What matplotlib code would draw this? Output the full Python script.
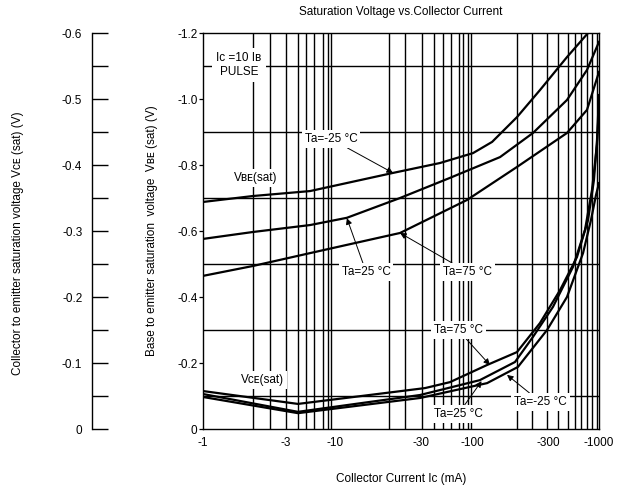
import matplotlib
matplotlib.use("Agg")
import matplotlib.pyplot as plt
from matplotlib.ticker import FixedLocator, NullFormatter

plt.rcParams['font.family'] = ['Liberation Sans', 'DejaVu Sans']

# collector current (mA, magnitude) and voltages (V)
ic_vbe_m25 = [1, 2.39, 6.47, 27.5, 62.4, 111, 155, 239, 357, 572, 826]
vbe_m25 = [-0.688, -0.706, -0.721, -0.776, -0.806, -0.836, -0.870, -0.945, -1.027, -1.127, -1.2]

ic_vbe_25 = [1, 2.39, 6.47, 12.3, 31.1, 74.3, 178, 316, 572, 811, 1000]
vbe_25 = [-0.576, -0.597, -0.618, -0.640, -0.700, -0.761, -0.824, -0.897, -0.997, -1.088, -1.173]

ic_vbe_75 = [1, 2.39, 6.47, 31.1, 100, 239, 572, 811, 1000]
vbe_75 = [-0.464, -0.494, -0.533, -0.594, -0.694, -0.794, -0.897, -0.967, -1.082]

ic_vce_75 = [1, 5.24, 48.1, 74.3, 142, 239, 357, 507, 681, 826, 916, 966, 1000]
vce_75 = [-0.115, -0.076, -0.124, -0.142, -0.194, -0.233, -0.321, -0.421, -0.521, -0.633, -0.755, -0.876, -1.012]

ic_vce_25 = [1, 5.24, 44.1, 125, 231, 316, 448, 635, 783, 885, 966, 1000]
vce_25 = [-0.106, -0.052, -0.103, -0.148, -0.203, -0.279, -0.370, -0.491, -0.603, -0.724, -0.861, -0.982]

ic_vce_m25 = [1, 5.24, 44.1, 142, 243, 404, 572, 757, 869, 949, 1000]
vce_m25 = [-0.097, -0.048, -0.094, -0.139, -0.188, -0.300, -0.400, -0.533, -0.633, -0.709, -0.745]

# odd grid and label spacing of the original sheet
x_tick_pos = [1, 4.2, 10, 45, 110, 415, 1000]
x_tick_labels = ['-1', '-3', '-10', '-30', '-100', '-300', '-1000']
x_grid = [2.4, 3.2, 4.25, 5.2, 6.0, 6.9, 8.1, 8.8, 9.4, 10,
          25.7, 34, 45.4, 56.5, 65.5, 75.3, 87, 93.7, 101, 107,
          238, 312, 402, 492, 579, 658, 731, 807, 881, 961]
y_ticks = [-1.2, -1.0, -0.8, -0.6, -0.4, -0.2, 0]
y_labels = ['-1.2', '-1.0', '-0.8', '-0.6', '-0.4', '-0.2', '0']
y_grid = [-1.1, -1.0, -0.9, -0.8, -0.7, -0.6, -0.5, -0.4, -0.3, -0.2, -0.1]
vce_ticks = [-0.6, -0.5, -0.4, -0.3, -0.2, -0.1, 0]
vce_labels = ['-0.6', '-0.5', '-0.4', '-0.3', '-0.2', '-0.1', '0']
vce_minor = [-0.55, -0.45, -0.35, -0.25, -0.15, -0.05]

W, H = 618, 493
fig = plt.figure(figsize=(W / 100, H / 100), dpi=100)
ax = fig.add_axes([203 / W, 64 / H, 396 / W, 396 / H])

ax.set_xscale('log')
ax.set_xlim(1, 1000)
ax.set_ylim(0, -1.2)
ax.set_axisbelow(True)

ax.xaxis.set_major_locator(FixedLocator(x_tick_pos))
ax.set_xticklabels(x_tick_labels)
ax.xaxis.set_minor_locator(FixedLocator(x_grid))
ax.xaxis.set_minor_formatter(NullFormatter())
ax.tick_params(axis='x', which='both', length=0, pad=6, labelsize=8.5)

ax.set_yticks(y_ticks)
ax.set_yticklabels(y_labels)
ax.yaxis.set_minor_locator(FixedLocator(y_grid))
ax.tick_params(axis='y', which='major', length=3, width=0.9, pad=1, labelsize=8.5)
ax.tick_params(axis='y', which='minor', length=0)

ax.xaxis.grid(True, which='minor', color='black', lw=1.0)
ax.yaxis.grid(True, which='minor', color='black', lw=1.0)
for s in ax.spines.values():
    s.set_linewidth(1.0)

for xs, ys in [(ic_vbe_m25, vbe_m25), (ic_vbe_25, vbe_25), (ic_vbe_75, vbe_75),
               (ic_vce_75, vce_75), (ic_vce_25, vce_25), (ic_vce_m25, vce_m25)]:
    ax.plot(xs, ys, color='black', lw=1.6, zorder=2, solid_joinstyle='round')

box = dict(boxstyle='square,pad=0.25', fc='white', ec='none')
arr = dict(arrowstyle='-|>', color='black', lw=0.7, mutation_scale=9, shrinkA=0, shrinkB=0)
fs = 8.5

ax.text(1.87, -1.103, 'Ic =10 I\u0299\nPULSE', ha='center', va='center',
        fontsize=fs, bbox=dict(boxstyle='square,pad=0.4', fc='white', ec='none'), linespacing=1.15)
ax.text(2.52, -0.761, 'V\u0299\u1d07(sat)', ha='center', va='center', fontsize=fs, bbox=box)
ax.text(2.8, -0.148, 'V\u1d04\u1d07(sat)', ha='center', va='center', fontsize=fs, bbox=box)

notes = [
    ('Ta=-25 °C', (9.33, -0.879), (27.5, -0.776)),
    ('Ta=25 °C', (17.2, -0.476), (12.3, -0.639)),
    ('Ta=75 °C', (101, -0.476), (31.1, -0.594)),
    ('Ta=75 °C', (85.6, -0.300), (149, -0.194)),
    ('Ta=25 °C', (85.6, -0.045), (129, -0.145)),
    ('Ta=-25 °C', (361, -0.082), (201, -0.164)),
]
for txt, tpos, tip in notes:
    ax.annotate(txt, xy=tip, xytext=tpos, ha='center', va='center', fontsize=fs,
                bbox=box, arrowprops=arr, zorder=4)

# separate left scale for Vce(sat)
ax2 = fig.add_axes([92 / W, 64 / H, 0.0005, 396 / H])
ax2.set_ylim(0, -0.6)
ax2.set_xticks([])
for k in ['right', 'top', 'bottom']:
    ax2.spines[k].set_visible(False)
ax2.spines['left'].set_linewidth(1.0)
ax2.patch.set_alpha(0)
ax2.set_yticks(vce_ticks)
ax2.set_yticklabels(vce_labels)
ax2.yaxis.set_minor_locator(FixedLocator(vce_minor))
ax2.tick_params(axis='y', which='both', direction='in', length=11.5, width=1.0, pad=7, labelsize=8.5)

fig.text(401 / W, 1 - 12 / H, 'Saturation Voltage vs.Collector Current', ha='center', va='center', fontsize=8.5)
fig.text(401 / W, 1 - 479 / H, 'Collector Current Ic (mA)', ha='center', va='center', fontsize=8.5)
fig.text(18 / W, 1 - 243 / H, 'Collector to emitter saturation voltage V\u1d04\u1d07 (sat) (V)',
         rotation=90, ha='center', va='center', fontsize=8.5)
fig.text(152 / W, 1 - 231 / H, 'Base to emitter saturation  voltage  V\u0299\u1d07 (sat) (V)',
         rotation=90, ha='center', va='center', fontsize=8.5)

fig.savefig('out.png', dpi=100)
